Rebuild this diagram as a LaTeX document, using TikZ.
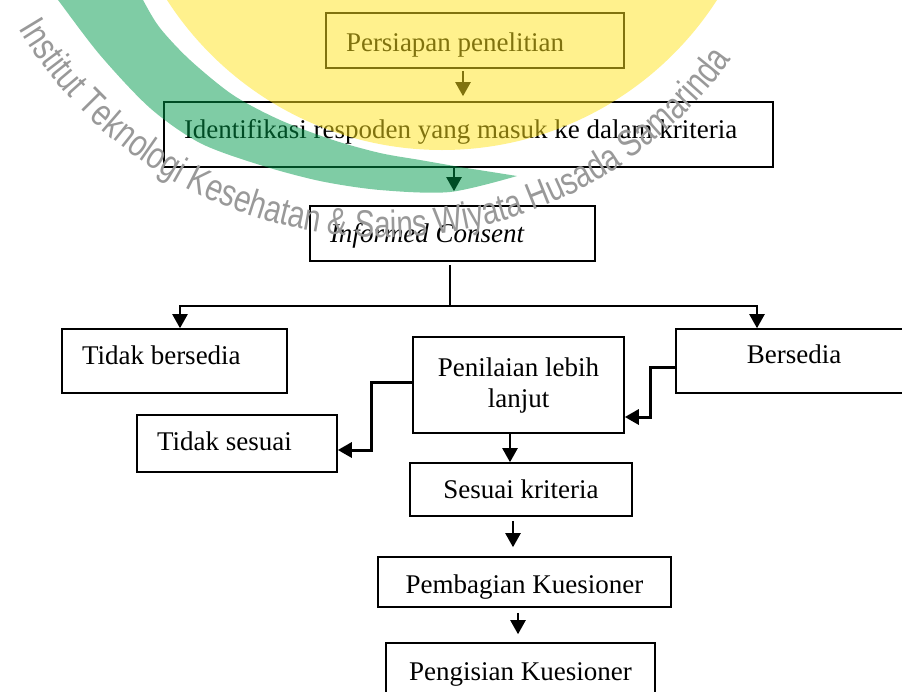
\documentclass[tikz,border=0pt]{standalone}
\usepackage{fontspec}
\setmainfont{Liberation Serif}
\newfontfamily\wmfam[FakeStretch=0.78]{Liberation Sans}
\newcommand{\wmfont}{\wmfam\fontsize{38}{42}\selectfont}
\usetikzlibrary{arrows.meta,calc,decorations.text}
\definecolor{wmkuning}{RGB}{255,228,28}
\definecolor{wmhijau}{RGB}{0,153,75}

\begin{document}
\begin{tikzpicture}[x=1pt,y=-1pt,font=\fontsize{27}{31}\selectfont,
  kotak/.style={draw,line width=1.6pt,inner ysep=0pt,align=center},
  kiri/.style={kotak,align=flush left,inner xsep=20pt},
  panah/.style={line width=2.2pt,-{Triangle[length=14pt,width=15pt]}},
  panahtebal/.style={panah,line width=3pt},
  garis/.style={line width=1.8pt}]
  \useasboundingbox (0,0) rectangle (902,691);
  \clip (0,0) rectangle (902,691);
  \node[kiri,text width=258pt,minimum height=55pt,text height=27pt,text depth=6pt] (prep) at (475,40.5) {Persiapan penelitian};
  \node[kiri,text width=569pt,minimum height=65pt,text height=19pt,text depth=12pt] (ident) at (468.5,134.5) {Identifikasi respoden yang masuk ke dalam kriteria};
  \node[kiri,text width=245pt,minimum height=55pt,text height=23pt,text depth=6pt] (consent) at (452.5,233.5) {\itshape Informed Consent};
  \node[kiri,text width=185pt,minimum height=64pt,text height=18pt,text depth=12pt] (tolak) at (174.5,361) {Tidak bersedia};
  \node[kotak,minimum width=236pt,minimum height=64pt,text height=18pt,text depth=14pt] (setuju) at (794,361) {Bersedia};
  \node[kotak,minimum width=211pt,minimum height=96pt] (nilai) at (518.5,385) {Penilaian lebih\\lanjut};
  \node[kiri,text width=160pt,minimum height=57pt,text height=19pt,text depth=6pt] (tidaksesuai) at (237,443.5) {Tidak sesuai};
  \node[kotak,minimum width=222pt,minimum height=53pt,text height=23pt,text depth=6pt] (sesuai) at (521,489.5) {Sesuai kriteria};
  \node[kotak,minimum width=293pt,minimum height=50pt,text height=28pt,text depth=6pt] (bagi) at (524.5,582) {Pembagian Kuesioner};
  \node[kotak,minimum width=269pt,minimum height=57pt,text height=23pt,text depth=6pt] (isi) at (520.5,671.5) {Pengisian Kuesioner};
  \coordinate (cabang) at (450,306);

  \draw[panah] ($(prep.south)+(-12,2)$) -- ($(prep.south |- ident.north)+(-12,-5)$);
  \draw[panah] ($(ident.south -| consent.north)+(1.5,0)$) -- ($(consent.north)+(1.5,-14)$);
  \draw[garis] ($(consent.south)+(-2.5,3)$) -- (cabang);
  \draw[panah] (cabang) -| ($(tolak.north)+(5.5,0)$);
  \draw[panah] (cabang) -| ($(setuju.north)+(-37,0)$);
  \draw[panahtebal] ($(nilai.west)+(0,-3)$) -- ++(-41,0) |- ($(tidaksesuai.east)+(0,6.5)$);
  \draw[panahtebal] ($(setuju.west)+(0,6)$) -- ++(-25,0) |- ($(nilai.east)+(0,32)$);
  \draw[panah] ($(nilai.south)+(-8.5,0)$) -- ($(nilai.south |- sesuai.north)+(-8.5,0)$);
  \draw[panah] ($(sesuai.south)+(-8,4)$) -- ($(sesuai.south |- bagi.north)+(-8,-9)$);
  \draw[panah] ($(bagi.south)+(-6.5,5)$) -- ($(bagi.south |- isi.north)+(-6.5,-8)$);

  \fill[wmkuning,opacity=.5] (442,-177) circle[radius=327pt];
  \fill[wmhijau,opacity=.5] plot[smooth] coordinates {(35,-30) (58,0) (100,55) (150,108) (200,143) (260,165) (320,181) (380,190) (450,192) (517,176)}
    -- plot[smooth] coordinates {(460,167) (420,160) (380,153) (333,140) (280,120) (233,95) (190,60) (160,28) (143,0) (128,-30)} -- cycle;
  \path[decorate,decoration={text along path,text align=center,text color=black!40,
    text={|\wmfont|Institut Teknologi Kesehatan {\&} Sains Wiyata Husada Samarinda}}]
    (13,19) arc[start angle=209.2,end angle=325.9,radius=426pt];
\end{tikzpicture}
\end{document}
